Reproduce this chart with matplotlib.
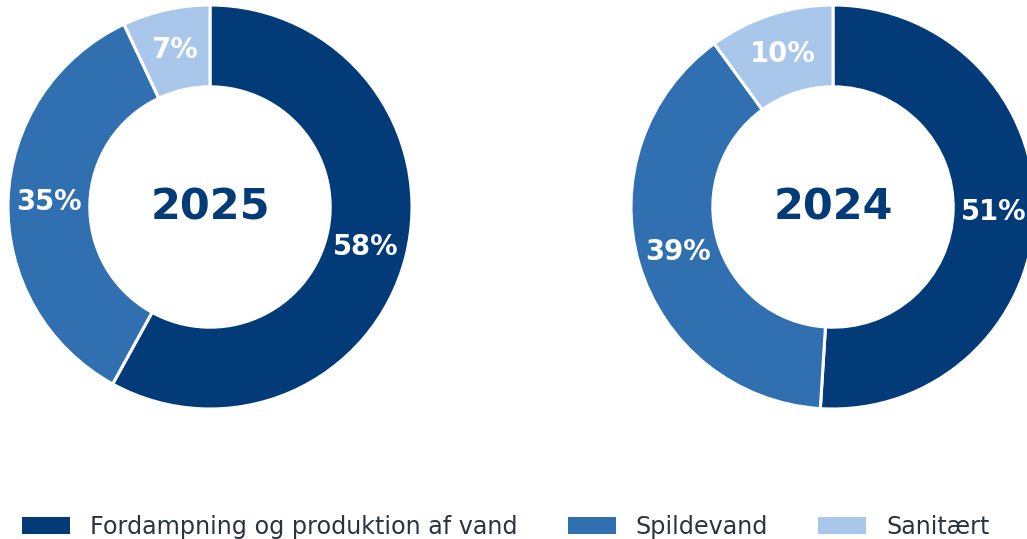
import matplotlib.pyplot as plt
from matplotlib.patches import Patch
import numpy as np

categories=['Fordampning og produktion af vand','Spildevand','Sanitært']
colors=['#033a78','#3070b0','#a8c7ea']
years=['2025','2024']
values={'2025':[58,35,7],'2024':[51,39,10]}

W,H=1027,539
fig=plt.figure(figsize=(W/100,H/100),dpi=100)

# donut placement in pixels (center x, center y from top, outer radius)
spots={'2025':(210,207,202),'2024':(833,207,202)}
ring=0.405

for year in years:
    cx,cy,r=spots[year]
    ax=fig.add_axes([(cx-r)/W,(H-cy-r)/H,2*r/W,2*r/H])
    vals=values[year]
    wedges,_=ax.pie(vals,colors=colors,startangle=90,counterclock=False,radius=1,
                    wedgeprops=dict(width=ring,edgecolor='white',linewidth=2.2))
    ax.set_xlim(-1,1);ax.set_ylim(-1,1)
    ax.set_aspect('equal')
    ax.axis('off')
    total=sum(vals)
    start=90
    mid_r=1-ring/2
    for v in vals:
        ang=np.deg2rad(start-v/total*360/2)
        ax.text(mid_r*np.cos(ang),mid_r*np.sin(ang),f'{v}%',ha='center',va='center',
                color='white',fontsize=19.8,fontweight='bold')
        start-=v/total*360
    ax.text(0,0,year,ha='center',va='center',color=colors[0],fontsize=31,fontweight='bold')

handles=[Patch(facecolor=c,edgecolor='none') for c in colors]
fig.legend(handles,categories,loc='center left',bbox_to_anchor=(22/W,12/H),ncol=3,
           frameon=False,fontsize=17.2,handlelength=2.0,handleheight=0.75,
           handletextpad=0.85,columnspacing=2.1,borderpad=0,borderaxespad=0,
           labelcolor='#2a3340')

fig.savefig('out.png',dpi=100)
